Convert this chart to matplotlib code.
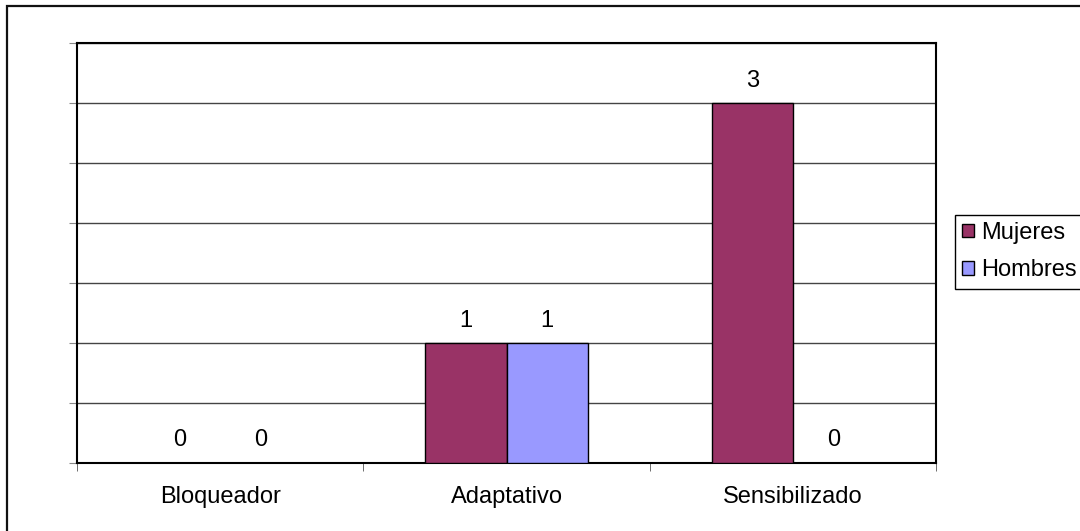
import matplotlib.pyplot as plt
import numpy as np
from matplotlib.patches import Rectangle

categorias = ['Bloqueador', 'Adaptativo', 'Sensibilizado']
mujeres = [0, 1, 3]
hombres = [0, 1, 0]

plt.rcParams['font.family'] = ['Liberation Sans', 'DejaVu Sans']

fig = plt.figure(figsize=(10.8, 5.31), dpi=100)
ax = fig.add_axes([77 / 1080, 1 - 462.5 / 531, (936 - 77) / 1080, (462.5 - 43) / 531])

x = np.arange(len(categorias))
ancho = 0.283
b1 = ax.bar(x - ancho / 2, mujeres, ancho, color='#993366', edgecolor='black',
            linewidth=1, label='Mujeres', zorder=3)
b2 = ax.bar(x + ancho / 2, hombres, ancho, color='#9999FF', edgecolor='black',
            linewidth=1, label='Hombres', zorder=3)

for barras in (b1, b2):
    for b in barras:
        h = b.get_height()
        ax.annotate(str(int(h)), (b.get_x() + b.get_width() / 2, h),
                    xytext=(0, 8), textcoords='offset points',
                    ha='center', va='bottom', fontsize=17)

ax.set_xlim(-0.5, 2.5)
ax.set_ylim(0, 3.5)
ax.set_yticks(np.arange(0, 3.51, 0.5))
ax.set_yticklabels([])
ax.yaxis.grid(True, color='#444444', linewidth=1, zorder=0)

ax.set_xticks(x)
ax.set_xticklabels(categorias, fontsize=17)
ax.tick_params(axis='x', length=0, pad=17)
ax.set_xticks([-0.5, 0.5, 1.5, 2.5], minor=True)
ax.tick_params(axis='x', which='minor', length=6, direction='out', color='#555555')
ax.tick_params(axis='y', length=6, direction='out', color='#888888')

for s in ax.spines.values():
    s.set_color('black')
    s.set_linewidth(1.5)

leg = fig.legend(loc='upper left', bbox_to_anchor=(955 / 1080, 1 - 215 / 531),
                 fontsize=17, handlelength=0.5, handleheight=0.5,
                 handletextpad=0.3, labelspacing=0.65, borderpad=0.3,
                 borderaxespad=0, fancybox=False, framealpha=1)
leg.get_frame().set_edgecolor('black')
leg.get_frame().set_linewidth(1)

# marco exterior del grafico
fig.patches.append(Rectangle((6.5 / 1080, -0.1), 1.2, 1 - 5.5 / 531 + 0.1,
                             transform=fig.transFigure, fill=False,
                             edgecolor='#111111', linewidth=1.6, clip_on=False))

fig.savefig('out.png', dpi=100)
